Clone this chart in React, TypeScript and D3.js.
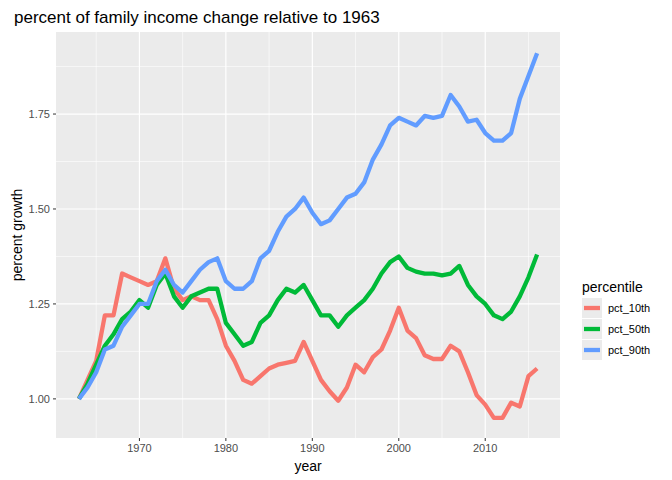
import * as d3 from 'd3';

const years = d3.range(1963, 2017);
const pct10 = [1.00,1.05,1.10,1.22,1.22,1.33,1.32,1.31,1.30,1.31,1.37,1.29,1.26,1.27,1.26,1.26,1.21,1.14,1.10,1.05,1.04,1.06,1.08,1.09,1.095,1.10,1.15,1.10,1.05,1.02,0.995,1.03,1.09,1.07,1.11,1.13,1.18,1.24,1.18,1.16,1.115,1.105,1.105,1.14,1.125,1.07,1.01,0.985,0.95,0.95,0.99,0.98,1.06,1.08];
const pct50 = [1.00,1.04,1.09,1.14,1.17,1.21,1.23,1.26,1.24,1.30,1.33,1.27,1.24,1.27,1.28,1.29,1.29,1.20,1.17,1.14,1.15,1.20,1.22,1.26,1.29,1.28,1.30,1.26,1.22,1.22,1.19,1.22,1.24,1.26,1.29,1.33,1.36,1.375,1.345,1.335,1.33,1.33,1.325,1.33,1.35,1.30,1.27,1.25,1.22,1.21,1.23,1.27,1.32,1.38];
const pct90 = [1.00,1.03,1.07,1.13,1.14,1.19,1.22,1.25,1.25,1.31,1.34,1.30,1.28,1.31,1.34,1.36,1.37,1.31,1.29,1.29,1.31,1.37,1.39,1.44,1.48,1.50,1.53,1.49,1.46,1.47,1.50,1.53,1.54,1.57,1.63,1.67,1.72,1.74,1.73,1.72,1.745,1.74,1.745,1.80,1.77,1.73,1.735,1.70,1.68,1.68,1.70,1.79,1.85,1.91];
const seriesNames = ['pct_10th', 'pct_50th', 'pct_90th'];
const seriesColors = ['#F8766D', '#00BA38', '#619CFF'];
const seriesValues = [pct10, pct50, pct90];
const xTicks = [1970, 1980, 1990, 2000, 2010];
const yTicks = [1.0, 1.25, 1.5, 1.75];

export default function App() {
  const W = 672, H = 480;
  const pl = 56, pr = 560, pt = 32, pb = 438;
  const x = d3.scaleLinear().domain([1960.35, 2018.65]).range([pl, pr]);
  const y = d3.scaleLinear().domain([0.897, 1.966]).range([pb, pt]);
  const line = d3.line<number>().x((_, i) => x(years[i])).y(d => y(d));
  const font = 'Arial, "Liberation Sans", sans-serif';
  const xMinor = xTicks.map(t => t - 5).concat([2015]);
  const yMinor = [0.875, 1.125, 1.375, 1.625, 1.875].filter(v => v > 0.897 && v < 1.966);
  return (
    <svg width={W} height={H} style={{ position: 'absolute', left: 0, top: 0 }} fontFamily={font}>
      <rect width={W} height={H} fill="#fff" />
      <rect x={pl} y={pt} width={pr - pl} height={pb - pt} fill="#EBEBEB" />
      {xMinor.map(t => <line key={'xm' + t} x1={x(t)} x2={x(t)} y1={pt} y2={pb} stroke="#fff" strokeWidth={0.6} />)}
      {yMinor.map(t => <line key={'ym' + t} x1={pl} x2={pr} y1={y(t)} y2={y(t)} stroke="#fff" strokeWidth={0.6} />)}
      {xTicks.map(t => <line key={'x' + t} x1={x(t)} x2={x(t)} y1={pt} y2={pb} stroke="#fff" strokeWidth={1.2} />)}
      {yTicks.map(t => <line key={'y' + t} x1={pl} x2={pr} y1={y(t)} y2={y(t)} stroke="#fff" strokeWidth={1.2} />)}
      {seriesValues.map((v, i) => (
        <path key={i} d={line(v) || ''} fill="none" stroke={seriesColors[i]} strokeWidth={4.3} strokeLinejoin="round" />
      ))}
      {xTicks.map(t => (
        <g key={'xt' + t}>
          <line x1={x(t)} x2={x(t)} y1={pb} y2={pb + 3} stroke="#333" />
          <text x={x(t)} y={pb + 14} fontSize={11} fill="#4D4D4D" textAnchor="middle">{t}</text>
        </g>
      ))}
      {yTicks.map(t => (
        <g key={'yt' + t}>
          <line x1={pl - 3} x2={pl} y1={y(t)} y2={y(t)} stroke="#333" />
          <text x={pl - 6} y={y(t) + 4} fontSize={11} fill="#4D4D4D" textAnchor="end">{t.toFixed(2)}</text>
        </g>
      ))}
      <text x={(pl + pr) / 2} y={471} fontSize={14} textAnchor="middle" fill="#000">year</text>
      <text transform={`translate(22,${(pt + pb) / 2}) rotate(-90)`} fontSize={14} textAnchor="middle" fill="#000">percent growth</text>
      <text x={14} y={23} fontSize={17} fill="#000">percent of family income change relative to 1963</text>
      <text x={582} y={292} fontSize={14} fill="#000">percentile</text>
      {seriesNames.map((n, i) => (
        <g key={n}>
          <rect x={582} y={298 + i * 21} width={20} height={20} fill="#EBEBEB" />
          <line x1={584} x2={600} y1={308 + i * 21} y2={308 + i * 21} stroke={seriesColors[i]} strokeWidth={4.3} />
          <text x={608} y={312 + i * 21} fontSize={11} fill="#000">{n}</text>
        </g>
      ))}
    </svg>
  );
}
